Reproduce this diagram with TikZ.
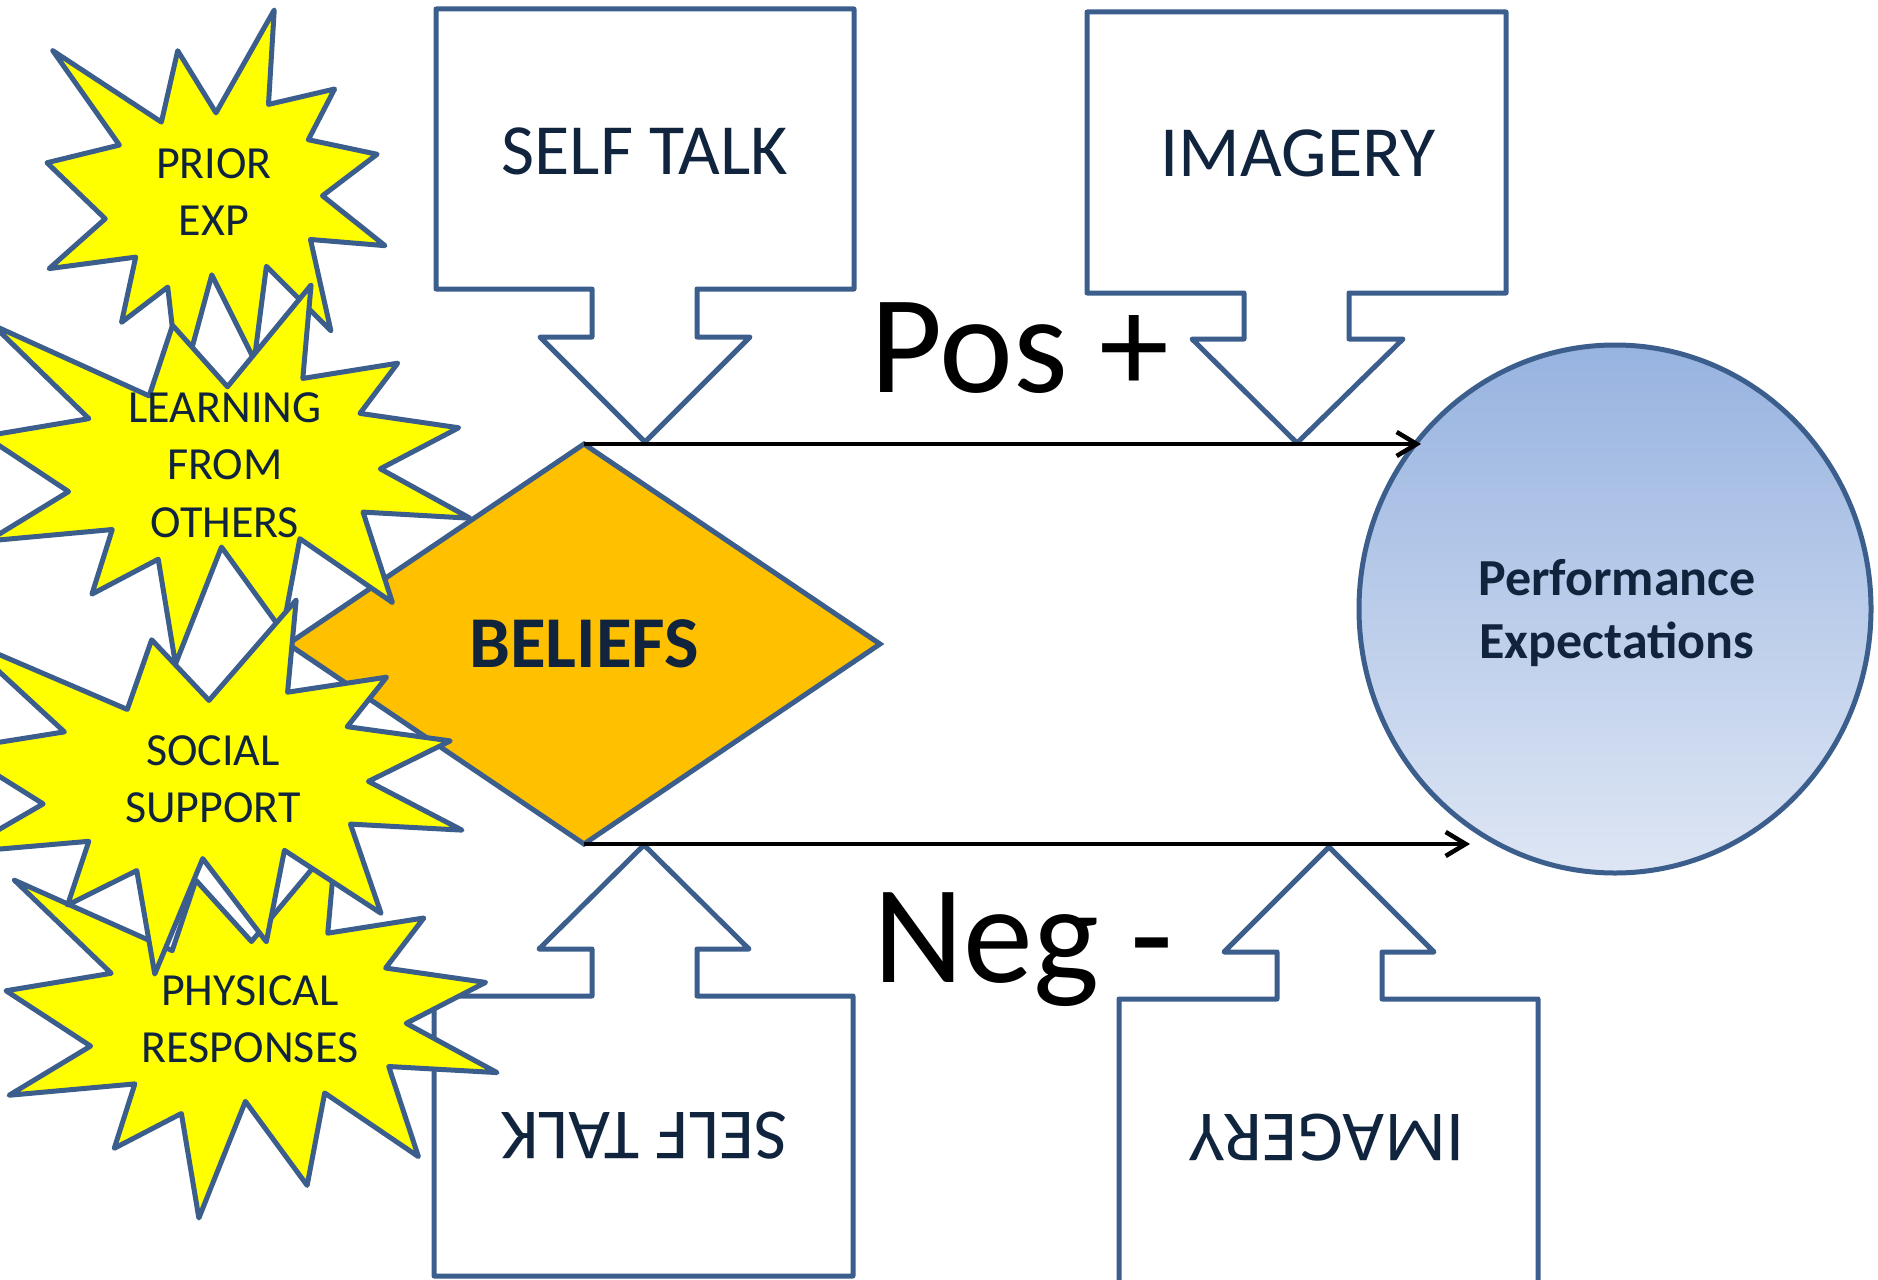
\documentclass[tikz,border=0pt]{standalone}
\usepackage{fontspec}
\setmainfont{Carlito}
\usetikzlibrary{shapes.geometric,arrows.meta}
\definecolor{outl}{HTML}{3B5E8C}
\definecolor{navy}{HTML}{10243E}
\definecolor{beliefc}{HTML}{FFC000}
\definecolor{starc}{HTML}{FFFF00}
\definecolor{circtop}{HTML}{97B3E0}
\definecolor{circbot}{HTML}{DEE6F4}
\begin{document}
\begin{tikzpicture}[x=1pt,y=-1pt,
  callout/.style={draw=outl,line width=5pt,line join=round,fill=white},
  calltext/.style={text=navy,font=\fontsize{72}{86}\selectfont,inner sep=0pt},
  startext/.style={text=navy,font=\fontsize{46}{57.5}\selectfont,align=center,inner sep=0pt},
  starshape/.style={draw=outl,line width=5pt,line join=round,fill=starc},
  flow/.style={draw=black,line width=4.5pt,-{Straight Barb[length=20pt,width=24pt]}},
  bigtext/.style={font=\fontsize{140}{168}\selectfont,inner sep=0pt,anchor=base west},
  seal/.pic={\path[starshape] (0.5,0.2685) -- (0.6723,0) -- (0.6553,0.2465) -- (0.8509,0.2063)
     -- (0.7732,0.3387) -- (0.9767,0.3767) -- (0.8151,0.4850) -- (1,0.6153) -- (0.7795,0.5992)
     -- (0.8400,0.8377) -- (0.6491,0.6693) -- (0.6133,0.9137) -- (0.4876,0.6914) -- (0.3928,1)
     -- (0.3572,0.7235) -- (0.2205,0.8156) -- (0.2624,0.6452) -- (0.0063,0.6753) -- (0.1723,0.5451)
     -- (0,0.3988) -- (0.2142,0.3526) -- (0.0171,0.1063) -- (0.3385,0.2926) -- (0.3867,0.1063) -- cycle;}
]
\useasboundingbox (0,0) rectangle (1878,1279);

% callouts
\draw[callout] (436,9) -- (854,9) -- (854,289) -- (697,289) -- (697,337) -- (750,337) -- (645,442)
  -- (540,337) -- (592,337) -- (592,289) -- (436,289) -- cycle;
\node[calltext] (st1) at (645,151) {SELF TALK};
\draw[callout] (1087,12) -- (1506,12) -- (1506,293) -- (1349,293) -- (1349,339) -- (1403,339) -- (1297,443)
  -- (1192,339) -- (1244,339) -- (1244,293) -- (1087,293) -- cycle;
\node[calltext] (im1) at (1298,153) {IMAGERY};
\draw[callout] (434,1276) -- (853,1276) -- (853,996) -- (697,996) -- (697,949) -- (749,949) -- (644,845)
  -- (539,949) -- (592,949) -- (592,996) -- (434,996) -- cycle;
\node[calltext,rotate=180] (st2) at (644,1136) {SELF TALK};
\draw[callout] (1119,1292) -- (1538,1292) -- (1538,999) -- (1382,999) -- (1382,952) -- (1434,952) -- (1329,847)
  -- (1224,952) -- (1277,952) -- (1277,999) -- (1119,999) -- cycle;
\node[calltext,rotate=180] (im2) at (1327,1138) {IMAGERY};

% beliefs and expectations
\node[diamond,draw=outl,line width=5pt,fill=beliefc,minimum width=592pt,minimum height=400pt,
  inner sep=0pt,outer sep=0pt,text=navy,font=\bfseries\fontsize{73}{87}\selectfont] (bel) at (584,644) {BELIEFS};
\node[ellipse,draw=outl,line width=5pt,top color=circtop,bottom color=circbot,
  minimum width=512pt,minimum height=528pt,inner sep=0pt,outer sep=0pt] (pe) at (1615,609) {};
\node[text=navy,font=\bfseries\fontsize{52}{63}\selectfont,align=center,inner sep=0pt] (pet) at (1617,613)
  {Performance\\Expectations};

% connectors
\coordinate (posend) at (1421,444);
\coordinate (negend) at (1470,844);
\draw[flow] (bel.north) -- (posend);
\draw[flow] (bel.south) -- (negend);

% labels
\node[bigtext] (pos) at (870,392) {Pos +};
\node[bigtext] (neg) at (873,982) {Neg -};

% stars
\pic[shift={(6,840)},xscale=491,yscale=378] {seal};
\node[startext] (phys) at (250,1019) {PHYSICAL\\RESPONSES};
\pic[shift={(47,10)},xscale=338,yscale=383] {seal};
\node[startext] (prior) at (214,192) {PRIOR\\EXP};
\pic[shift={(-15,285)},xscale=485,yscale=379] {seal};
\node[startext] (learn) at (225,465) {LEARNING\\FROM\\OTHERS};
\pic[shift={(-44,600)},xscale=506,yscale=374] {seal};
\node[startext] (soc) at (213,779) {SOCIAL\\SUPPORT};
\end{tikzpicture}
\end{document}
